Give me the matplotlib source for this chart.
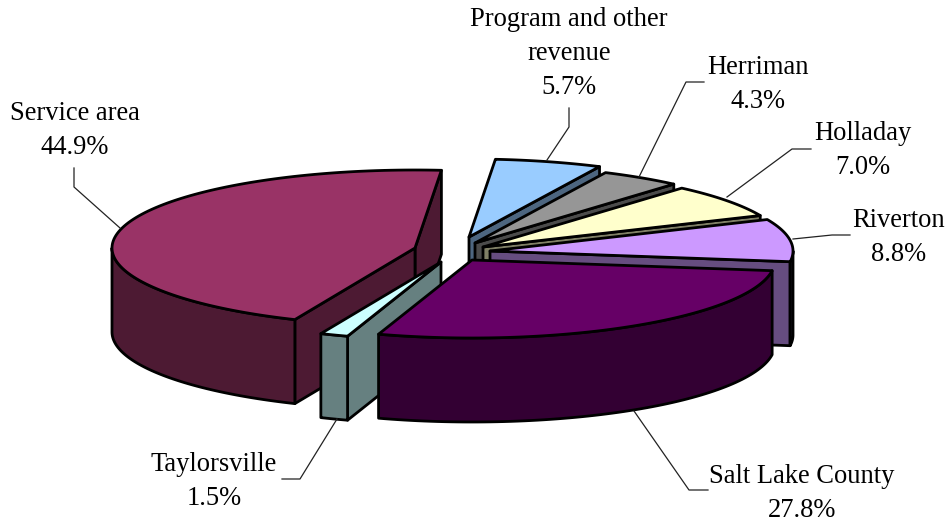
import numpy as np
import matplotlib
matplotlib.use('Agg')
import matplotlib.pyplot as plt
from matplotlib.patches import Polygon

# Datos del grafico
nombres = ['Service area', 'Taylorsville', 'Salt Lake County', 'Riverton',
           'Holladay', 'Herriman', 'Program and other\nrevenue']
valores = [44.9, 1.5, 27.8, 8.8, 7.0, 4.3, 5.7]

# Estilo de cada porcion
color_top = ['#993366', '#CCFFFF', '#660066', '#CC99FF', '#FFFFCC', '#969696', '#99CCFF']
color_lado = ['#4D1A33', '#668080', '#330033', '#664D80', '#808066', '#4B4B4B', '#4D6680']
centro_x = [415, 441, 472, 490, 483, 475, 469]
centro_y = [248, 262, 260, 251, 247, 243, 237]
orden = [0, 6, 5, 4, 3, 1, 2]

# Geometria del pastel
RX, RY = 303, 78
ALTO = 84
ANG_INICIO = 85.0

# Etiquetas y lineas guia (pixeles); texto_y es la linea base de la primera linea
texto_x = [75, 214, 802, 899, 863, 758, 569]
texto_y = [120, 471, 483, 227, 140, 74, 26]
INTERLINEA = 33.8
guia_x = [[74, 74, 120], [282, 300, 337], [708, 689, 634], [850, 832, 793],
          [811, 792, 727], [704, 686, 639], [569, 569, 547]]
guia_y = [[168, 187, 228], [479, 479, 419], [490, 490, 411], [235, 235, 239],
          [149, 149, 197], [82, 82, 177], [108, 127, 160]]

plt.rcParams['font.family'] = ['Liberation Serif', 'DejaVu Serif']

fig = plt.figure(figsize=(9.51, 5.23), dpi=100)
ax = fig.add_axes([0, 0, 1, 1])
ax.set_xlim(0, 951)
ax.set_ylim(523, 0)
ax.axis('off')

total = sum(valores)
angulos = ANG_INICIO + np.concatenate([[0], np.cumsum(valores)]) / total * 360


def borde(cx, cy, t):
    t = np.radians(t)
    return cx + RX * np.cos(t), cy - RY * np.sin(t)


def pared(xs, ys, color, z):
    # extruye una polilinea hacia abajo
    xs = np.asarray(xs, dtype=float)
    ys = np.asarray(ys, dtype=float)
    pts = np.column_stack([np.r_[xs, xs[::-1]], np.r_[ys, ys[::-1] + ALTO]])
    ax.add_patch(Polygon(pts, closed=True, fc=color, ec='black', lw=2.0, joinstyle='round', zorder=z))


z = 1
for i in orden:
    cx, cy = centro_x[i], centro_y[i]
    t0, t1 = angulos[i], angulos[i + 1]
    x0, y0 = borde(cx, cy, t0)
    x1, y1 = borde(cx, cy, t1)

    # paredes radiales visibles
    if np.cos(np.radians(t0)) > 0:
        pared([cx, x0], [cy, y0], color_lado[i], z)
    if np.cos(np.radians(t1)) < 0:
        pared([cx, x1], [cy, y1], color_lado[i], z)

    # pared exterior, solo la parte frontal
    a = max(t0, 180)
    b = min(t1, 360)
    if b > a:
        ts = np.linspace(a, b, 80)
        ex, ey = borde(cx, cy, ts)
        pared(ex, ey, color_lado[i], z)

    # cara superior
    ts = np.linspace(t0, t1, 120)
    ex, ey = borde(cx, cy, ts)
    pts = np.column_stack([np.r_[cx, ex], np.r_[cy, ey]])
    ax.add_patch(Polygon(pts, closed=True, fc=color_top[i], ec='black', lw=2.0, joinstyle='round', zorder=z))
    z += 1

for i in range(len(valores)):
    ax.plot(guia_x[i], guia_y[i], color='#222222', lw=0.9, zorder=20)
    lineas = nombres[i].split('\n') + [f'{valores[i]:.1f}%']
    for k, linea in enumerate(lineas):
        ax.text(texto_x[i], texto_y[i] + k * INTERLINEA, linea, ha='center', va='baseline',
                fontsize=19.1, color='black', zorder=21)

fig.savefig('out.png', dpi=100)
